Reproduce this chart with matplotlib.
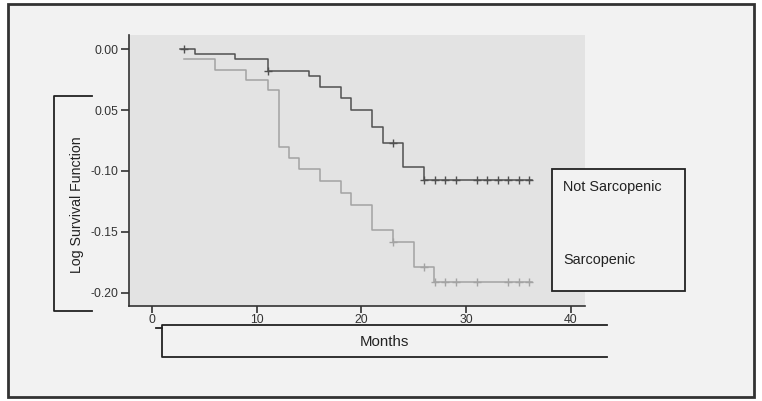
"""Log survival function by sarcopenia status (SPSS-style Kaplan-Meier plot)."""

import matplotlib.pyplot as plt
from matplotlib.patches import Rectangle

plt.rcParams["font.family"] = ["Liberation Sans", "DejaVu Sans"]

# --- data ------------------------------------------------------------------
groups = ["Not Sarcopenic", "Sarcopenic"]

# step curves (value holds until the next time point)
not_sarc_t = [2.7, 4.1, 7.9, 11.1, 15.0, 16.0, 18.0, 19.0, 21.0, 22.1, 24.0, 26.0, 36.3]
not_sarc_v = [0.0, -0.004, -0.008, -0.018, -0.022, -0.031, -0.040, -0.050,
              -0.064, -0.077, -0.097, -0.107, -0.107]
sarc_t = [3.05, 6.0, 9.0, 11.1, 12.1, 13.1, 14.0, 16.0, 18.0, 19.0, 21.0,
          23.0, 25.0, 26.9, 36.3]
sarc_v = [-0.008, -0.017, -0.025, -0.034, -0.080, -0.089, -0.098, -0.108,
          -0.118, -0.128, -0.148, -0.158, -0.179, -0.191, -0.191]

# censored observations
not_sarc_cens_t = [3.1, 11.1, 23.0, 26, 27, 28, 29, 31, 32, 33, 34, 35, 36]
not_sarc_cens_v = [0.0, -0.018, -0.077] + [-0.107] * 10
sarc_cens_t = [23.0, 26.0, 27, 28, 29, 31, 34, 35, 36]
sarc_cens_v = [-0.158, -0.179] + [-0.191] * 7

x_ticks = [0, 10, 20, 30, 40]
y_ticks = [0.0, -0.05, -0.10, -0.15, -0.20]
y_tick_labels = ["0.00", "0.05", "-0.10", "-0.15", "-0.20"]

# --- figure -----------------------------------------------------------------
W, H = 762, 401
fig = plt.figure(figsize=(W / 100, H / 100), dpi=100)
fig.patch.set_facecolor("white")

# background + outer frame, in pixel coordinates
bg = fig.add_axes([0, 0, 1, 1], zorder=0)
bg.set_xlim(0, W)
bg.set_ylim(H, 0)
bg.axis("off")
bg.add_patch(Rectangle((8, 4), 746, 393, facecolor="#f2f2f2",
                       edgecolor="#333333", lw=2))

ax = fig.add_axes([129 / W, 1 - 306 / H, (585 - 129) / W, (306 - 35) / H], zorder=1)
ax.set_facecolor("#e3e3e3")

dark, light = "#505050", "#a3a3a3"
ax.step(not_sarc_t, not_sarc_v, where="post", color=dark, lw=1.1)
ax.step(sarc_t, sarc_v, where="post", color=light, lw=1.1)
ax.plot(not_sarc_cens_t, not_sarc_cens_v, ls="none", marker="+", ms=6,
        mew=1.0, color=dark)
ax.plot(sarc_cens_t, sarc_cens_v, ls="none", marker="+", ms=6,
        mew=1.0, color=light)

ax.set_xlim(-2.2, 41.35)
ax.set_ylim(-0.2107, 0.0115)
ax.set_xticks(x_ticks)
ax.set_yticks(y_ticks)
ax.set_yticklabels(y_tick_labels)
for s in ("top", "right"):
    ax.spines[s].set_visible(False)
for s in ("left", "bottom"):
    ax.spines[s].set_color("#333333")
    ax.spines[s].set_linewidth(1.2)
ax.tick_params(axis="y", length=6, width=1.2, pad=1.5, labelsize=8.8,
               colors="#333333")
ax.tick_params(axis="x", length=5, width=1.2, pad=1, labelsize=8.8,
               colors="#333333")

# overlay: brackets, axis-title boxes and legend box
ov = fig.add_axes([0, 0, 1, 1], zorder=2)
ov.set_xlim(0, W)
ov.set_ylim(H, 0)
ov.axis("off")
ov.patch.set_alpha(0)

kw = dict(color="#222222", lw=1.3)
# y-axis title bracket
ov.plot([92, 54, 54, 92], [96, 96, 311, 311], **kw)
ov.text(77, 205, "Log Survival Function", rotation=90, ha="center",
        va="center", fontsize=10.2, color="#222222")
# x-axis title box
ov.plot([607, 162, 162, 607], [325, 325, 357, 357], **kw)
ov.plot([156, 162], [328, 328], **kw)
ov.text(384, 342, "Months", ha="center", va="center", fontsize=10.8,
        color="#222222")
# legend box
ov.add_patch(Rectangle((552, 169), 133, 122, facecolor="#f2f2f2",
                       edgecolor="#222222", lw=1.3))
ov.text(563, 187, groups[0], ha="left", va="center", fontsize=10.4,
        color="#222222")
ov.text(563, 260, groups[1], ha="left", va="center", fontsize=10.4,
        color="#222222")

fig.savefig("out.png", dpi=100)
